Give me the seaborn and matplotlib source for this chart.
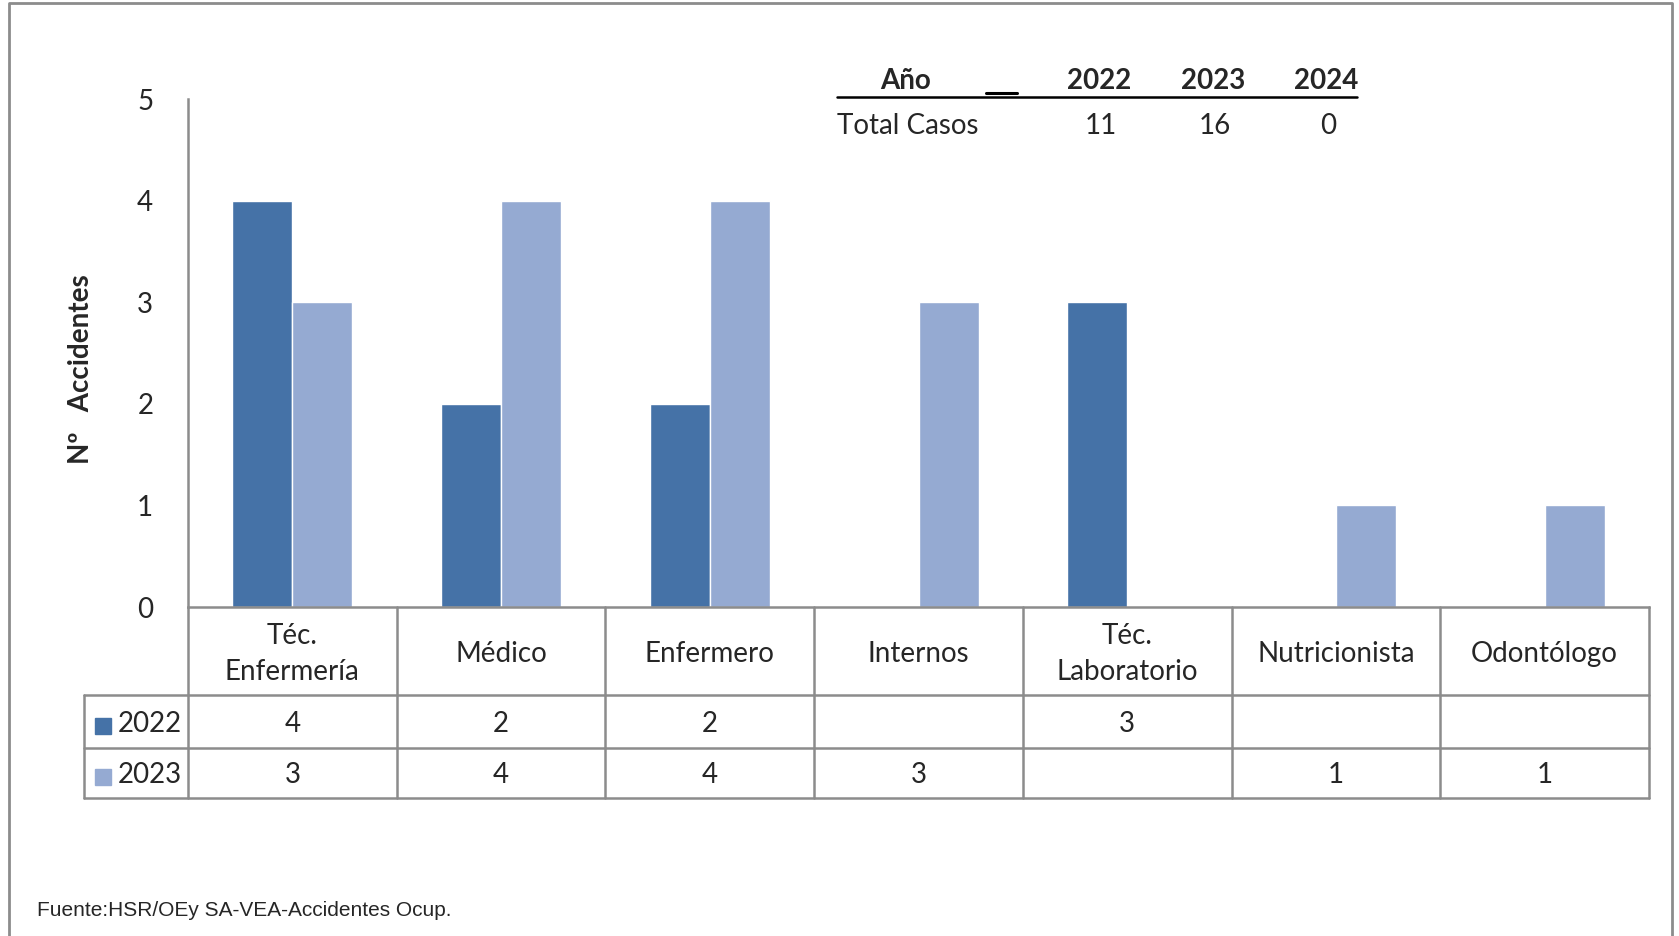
import numpy as np
import pandas as pd
import matplotlib
matplotlib.use("Agg")
import matplotlib.pyplot as plt
import matplotlib.transforms as mtransforms
from matplotlib.patches import Rectangle
from matplotlib.lines import Line2D
import seaborn as sns

# data
categories = ["Téc.\nEnfermería", "Médico", "Enfermero", "Internos",
              "Téc.\nLaboratorio", "Nutricionista", "Odontólogo"]
years = ["2022", "2023"]
vals_2022 = [4, 2, 2, np.nan, 3, np.nan, np.nan]
vals_2023 = [3, 4, 4, 3, np.nan, 1, 1]
y_ticks = [0, 1, 2, 3, 4, 5]
summary_years = ["2022", "2023", "2024"]
summary_totals = [11, 16, 0]
source_note = "Fuente:HSR/OEy SA-VEA-Accidentes Ocup."

colors = {"2022": "#4572A7", "2023": "#95AAD2"}
grid_col = "#8C8C8C"
W, H = 1679, 936
fs = 20

sns.set_theme(style="white")
plt.rcParams["font.family"] = ["Lato", "DejaVu Sans"]

df = pd.DataFrame({
    "cat": categories * 2,
    "year": ["2022"] * len(categories) + ["2023"] * len(categories),
    "val": vals_2022 + vals_2023,
})

fig = plt.figure(figsize=(W / 100, H / 100), dpi=100)
fig.patch.set_facecolor("white")

def fx(px):
    return px / W

def fy(py):
    return 1 - py / H

ax_l, ax_r, ax_t, ax_b = 188, 1649, 99, 607
ax = fig.add_axes([fx(ax_l), fy(ax_b), fx(ax_r) - fx(ax_l), fy(ax_t) - fy(ax_b)])

sns.barplot(data=df, x="cat", y="val", hue="year", hue_order=years,
            order=categories, palette=colors, width=0.575, saturation=1,
            errorbar=None, legend=False, ax=ax)

ax.set_xlim(-0.5, len(categories) - 0.5)
ax.set_ylim(0, 5)
ax.set_yticks(y_ticks)
ax.set_yticklabels([str(t) for t in y_ticks], fontsize=fs)
ax.tick_params(axis="y", length=0, pad=25)
ax.set_xticks([])
ax.set_xlabel("")
for s in ["top", "right"]:
    ax.spines[s].set_visible(False)
for s in ["left", "bottom"]:
    ax.spines[s].set_color(grid_col)
    ax.spines[s].set_linewidth(1.8)

ax.set_ylabel("Nº   Accidentes", fontsize=fs, fontweight="bold")
ax.yaxis.set_label_coords((94 - ax_l) / (ax_r - ax_l), 0.468)

# data table under the bars
trans = mtransforms.blended_transform_factory(ax.transData, ax.transAxes)
ax_h = ax_b - ax_t

def ay(py):
    return (ax_b - py) / ax_h

row_tops = [695, 748, 798]
n = len(categories)
lab_left = -1.0
for py in row_tops:
    ax.add_line(Line2D([lab_left, n - 0.5], [ay(py)] * 2, transform=trans,
                       color=grid_col, lw=1.8, clip_on=False))
ax.add_line(Line2D([lab_left, lab_left], [ay(695), ay(798)], transform=trans,
                   color=grid_col, lw=1.8, clip_on=False))
for k in range(n + 1):
    ax.add_line(Line2D([k - 0.5, k - 0.5], [ay(607), ay(798)], transform=trans,
                       color=grid_col, lw=1.8, clip_on=False))

for i, c in enumerate(categories):
    ax.text(i, ay(654), c, transform=trans, ha="center", va="center",
            fontsize=fs, linespacing=1.45)

row_y = {"2022": ay(724), "2023": ay(775)}
series = {"2022": vals_2022, "2023": vals_2023}
px_per_unit = (ax_r - ax_l) / n
for yr in years:
    ax.add_patch(Rectangle((-0.5 + (95 - ax_l) / px_per_unit, row_y[yr] - 10 / ax_h),
                           16 / px_per_unit, 16 / ax_h, transform=trans,
                           color=colors[yr], clip_on=False))
    ax.text(-0.5 + (118 - ax_l) / px_per_unit, row_y[yr], yr, transform=trans,
            ha="left", va="center", fontsize=fs)
    for i, v in enumerate(series[yr]):
        if not np.isnan(v):
            ax.text(i, row_y[yr], f"{v:.0f}", transform=trans,
                    ha="center", va="center", fontsize=fs)

# summary box at the top
fig.text(fx(906), fy(81), "Año", ha="center", va="center", fontsize=fs, fontweight="bold")
fig.add_artist(Line2D([fx(986), fx(1017)], [fy(93), fy(93)], color="black", lw=2.2))
fig.text(fx(837), fy(126), "Total Casos", ha="left", va="center", fontsize=fs)
sum_x = [1099, 1213, 1326]
for x, yr, tot in zip(sum_x, summary_years, summary_totals):
    fig.text(fx(x), fy(81), yr, ha="center", va="center", fontsize=fs, fontweight="bold")
    fig.text(fx(x + 2), fy(126), str(tot), ha="center", va="center", fontsize=fs)
fig.add_artist(Line2D([fx(837), fx(1357)], [fy(97), fy(97)], color="black", lw=1.8))

fig.text(fx(37), fy(910), source_note, ha="left", va="center", fontsize=15,
         family=["Liberation Sans", "DejaVu Sans"])

# outer frame
frame = [(9, 940), (9, 3), (1672, 3), (1672, 940)]
fig.add_artist(Line2D([fx(p[0]) for p in frame], [fy(p[1]) for p in frame],
                      color=grid_col, lw=2))

fig.savefig("out.png", dpi=100)
